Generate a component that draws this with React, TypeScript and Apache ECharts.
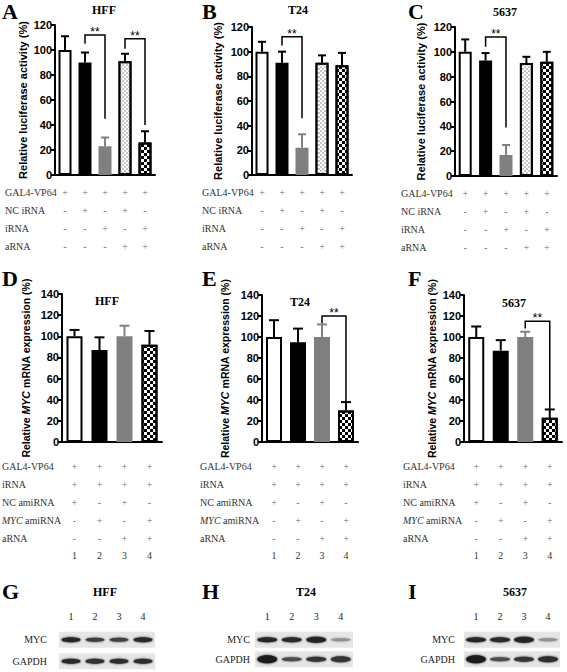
import React, { useEffect, useRef } from 'react';
import * as echarts from 'echarts';

const SANS = 'Liberation Sans';
const SERIF = 'Liberation Serif';

// ---------------- Data: panels A–C (luciferase activity) ----------------
const lucCategories = ['1', '2', '3', '4', '5'];
const lucRowLabels = ['{r|GAL4-VP64}', '{r|NC iRNA}', '{r|iRNA}', '{r|aRNA}'];
const lucSignGal4 = ['+', '+', '+', '+', '+'];
const lucSignNcIrna = ['-', '+', '-', '+', '-'];
const lucSignIrna = ['-', '-', '+', '-', '+'];
const lucSignArna = ['-', '-', '-', '+', '+'];
const lucTicks = [0, 20, 40, 60, 80, 100, 120];

const lucHffMean = [100, 90, 23, 91, 26];
const lucHffTop = [111, 98, 30, 97, 35];
const lucT24Mean = [100, 91, 22, 91, 89];
const lucT24Top = [108, 100, 33, 97, 99];
const luc5637Mean = [100, 93, 17, 91, 92];
const luc5637Top = [110, 99, 25, 96, 100];
// significance brackets: [fromBar, toBar, bracketTop, leftEnd, rightEnd]
const lucHffSig = [[1, 2, 112, 105, 45], [3, 4, 109, 101, 40]];
const lucT24Sig = [[1, 2, 112, 105, 46]];
const luc5637Sig = [[1, 2, 112, 104, 39]];

// ---------------- Data: panels D–F (MYC mRNA) ----------------
const mycCategories = ['1', '2', '3', '4'];
const mycRowLabels = ['{r|GAL4-VP64}', '{r|iRNA}', '{r|NC amiRNA}', '{i|MYC}{r| amiRNA}', '{r|aRNA}'];
const mycSignGal4 = ['+', '+', '+', '+'];
const mycSignIrna = ['+', '+', '+', '+'];
const mycSignNcAmirna = ['+', '-', '+', '-'];
const mycSignMycAmirna = ['-', '+', '-', '+'];
const mycSignArna = ['-', '-', '+', '+'];
const mycTicks = [0, 20, 40, 60, 80, 100, 120, 140];

const mycHffMean = [100, 87, 100, 92];
const mycHffTop = [106, 99, 110, 105];
const mycT24Mean = [100, 95, 100, 30];
const mycT24Top = [116, 108, 112, 38];
const myc5637Mean = [100, 87, 100, 23];
const myc5637Top = [110, 97, 105, 31];
const mycHffSig: number[][] = [];
const mycT24Sig = [[2, 3, 120, 113, 33]];
const myc5637Sig = [[2, 3, 115, 108, 31]];

// ---------------- Data: panels G–I (western blots) ----------------
const blotLanes = ['1', '2', '3', '4'];
const blotRows = ['MYC', 'GAPDH'];
const blotHffMyc = [0.9, 0.8, 0.78, 0.88];
const blotHffMycThick = [4, 3, 3, 4];
const blotHffGapdh = [0.88, 0.85, 0.86, 0.86];
const blotHffGapdhThick = [4, 4, 4, 4];
const blotT24Myc = [0.9, 0.88, 0.93, 0.4];
const blotT24MycThick = [4, 4, 5, 2];
const blotT24Gapdh = [0.96, 0.72, 0.84, 0.84];
const blotT24GapdhThick = [7, 3, 4, 5];
const blot5637Myc = [0.9, 0.88, 0.93, 0.4];
const blot5637MycThick = [4, 4, 5, 2];
const blot5637Gapdh = [0.96, 0.72, 0.84, 0.86];
const blot5637GapdhThick = [7, 3, 4, 5];

const panelTitles = ['HFF', 'T24', '5637'];
const panelLetters = ['A', 'B', 'C', 'D', 'E', 'F', 'G', 'H', 'I'];

// ---------------- Styles / layout ----------------
const checker = (color: string, size: number) => ({
  symbol: 'rect',
  symbolSize: 1,
  dashArrayX: [[size, size], [0, size, size, 0]],
  dashArrayY: [size, 0],
  color,
  backgroundColor: '#fff',
});
const BW = 2;
const lucStyles = [
  { color: '#fff', borderColor: '#000', borderWidth: BW },
  { color: '#000', borderColor: '#000', borderWidth: BW },
  { color: '#808080', borderColor: '#808080', borderWidth: BW },
  { color: '#fff', borderColor: '#000', borderWidth: BW, decal: checker('#c6c6c6', 2) },
  { color: '#fff', borderColor: '#000', borderWidth: BW, decal: checker('#000', 3) },
];
const lucErrColors = ['#000', '#000', '#808080', '#000', '#000'];
const mycStyles = [
  { color: '#fff', borderColor: '#000', borderWidth: BW },
  { color: '#000', borderColor: '#000', borderWidth: BW },
  { color: '#808080', borderColor: '#808080', borderWidth: BW },
  { color: '#fff', borderColor: '#000', borderWidth: BW, decal: checker('#000', 3) },
];
const mycErrColors = ['#000', '#000', '#808080', '#000'];

const lucLayouts = [
  { left: 55, top: 25, width: 100, height: 150, nameGap: 27, rowX: 5, title: [104, 10] },
  { left: 252, top: 27, width: 100, height: 148, nameGap: 29, rowX: 202, title: [298, 10] },
  { left: 455, top: 27, width: 102, height: 149, nameGap: 29, rowX: 401, title: [505, 12] },
];
const mycLayouts = [
  { left: 62, top: 294, width: 100, height: 148, nameGap: 31, rowX: 2, title: [107, 301] },
  { left: 262, top: 295, width: 96, height: 147, nameGap: 32, rowX: 200, title: [300, 302] },
  { left: 464, top: 295, width: 98, height: 147, nameGap: 27, rowX: 403, title: [514, 303] },
];
const blotLayouts = [
  { left: 59, top: 629, width: 96, height: 43, laneMargin: 8, rowMargin: 12, bandW: 19, title: [105, 592] },
  { left: 255, top: 630, width: 98, height: 39, laneMargin: 9, rowMargin: 5, bandW: 20, title: [306, 592] },
  { left: 464, top: 630, width: 96, height: 39, laneMargin: 9, rowMargin: 9, bandW: 20, title: [515, 592] },
];
const letterX = [2, 202, 408];
const letterY = [11, 278, 591];

const rowRich = {
  r: { fontFamily: SERIF, fontSize: 10, color: '#333', fill: '#333' },
  i: { fontFamily: SERIF, fontSize: 10, fontStyle: 'italic', color: '#333', fill: '#333' },
};

function txt(x: number, y: number, text: string, fontFamily: string, fontSize: number, fontWeight: string, fill: string, align = 'left', rich?: any) {
  const style: any = {
    text,
    fontFamily,
    fontSize,
    fontWeight,
    fill,
    align,
    textAlign: align,
    verticalAlign: 'middle',
    textVerticalAlign: 'middle',
  };
  if (rich) style.rich = rich;
  return { type: 'text', x, y, silent: true, style };
}

function buildBarPanel(p: any) {
  const { gi, lay, cats, means, tops, sigs, styles, errColors, signRows, ticks, yName, yFontSize, rowLabels, numbers, LH, margin, barWidth, cap } = p;
  const grid = { left: lay.left, top: lay.top, width: lay.width, height: lay.height };
  const xAxis = {
    type: 'category',
    gridIndex: gi,
    data: cats,
    axisLine: { lineStyle: { color: '#000', width: 2 } },
    axisTick: { show: false },
    axisLabel: {
      interval: 0,
      margin,
      color: '#707070',
      formatter: (value: string, index: number) => {
        const lines = signRows.map((row: string[]) => `{s|${row[index]}}`);
        if (numbers) lines.push(`{n|${value}}`);
        return lines.join('\n');
      },
      rich: {
        s: { fontFamily: SERIF, fontSize: 10, color: '#707070', lineHeight: LH },
        n: { fontFamily: SERIF, fontSize: 10, color: '#333333', lineHeight: LH },
      },
    },
  };
  const yAxis = {
    type: 'value',
    gridIndex: gi,
    min: ticks[0],
    max: ticks[ticks.length - 1],
    interval: ticks[1] - ticks[0],
    axisLine: { show: true, lineStyle: { color: '#000', width: 2 } },
    axisTick: { show: true, length: 4, lineStyle: { color: '#000', width: 2 } },
    splitLine: { show: false },
    axisLabel: { fontFamily: SANS, fontWeight: 'bold', fontSize: 11, color: '#000', margin: 3 },
    name: yName,
    nameLocation: 'middle',
    nameGap: lay.nameGap,
    nameTextStyle: {
      fontFamily: SANS,
      fontWeight: 'bold',
      fontSize: yFontSize,
      color: '#000',
      rich: { i: { fontFamily: SANS, fontWeight: 'bold', fontStyle: 'italic', fontSize: yFontSize, color: '#000' } },
    },
  };
  const series: any[] = [
    {
      type: 'bar',
      xAxisIndex: gi,
      yAxisIndex: gi,
      barWidth,
      data: means.map((v: number, k: number) => ({ value: v, itemStyle: styles[k] })),
      z: 2,
    },
    {
      type: 'custom',
      xAxisIndex: gi,
      yAxisIndex: gi,
      encode: { x: 0, y: 1 },
      data: means.map((v: number, k: number) => [k, v, tops[k]]),
      z: 3,
      renderItem: (params: any, api: any) => {
        const x = api.value(0);
        const p0 = api.coord([x, api.value(1)]);
        const p1 = api.coord([x, api.value(2)]);
        const col = errColors[params.dataIndex];
        return {
          type: 'group',
          children: [
            { type: 'line', shape: { x1: p0[0], y1: p0[1], x2: p1[0], y2: p1[1] }, style: { stroke: col, lineWidth: 2 } },
            { type: 'line', shape: { x1: p1[0] - cap, y1: p1[1], x2: p1[0] + cap, y2: p1[1] }, style: { stroke: col, lineWidth: 2 } },
          ],
        };
      },
    },
  ];
  if (sigs.length) {
    series.push({
      type: 'custom',
      xAxisIndex: gi,
      yAxisIndex: gi,
      encode: { x: 0, y: 2 },
      data: sigs,
      z: 4,
      renderItem: (params: any, api: any) => {
        const a = api.coord([api.value(0), api.value(3)]);
        const t1 = api.coord([api.value(0), api.value(2)]);
        const t2 = api.coord([api.value(1), api.value(2)]);
        const b = api.coord([api.value(1), api.value(4)]);
        return {
          type: 'group',
          children: [
            { type: 'polyline', shape: { points: [a, t1, t2, b] }, style: { stroke: '#000', lineWidth: 1.5, fill: null } },
            {
              type: 'text',
              x: (t1[0] + t2[0]) / 2,
              y: t1[1] + 3,
              style: { text: '**', fontFamily: SANS, fontSize: 12, fill: '#000', align: 'center', verticalAlign: 'bottom' },
            },
          ],
        };
      },
    });
  }
  const bottom = lay.top + lay.height;
  const graphics = rowLabels.map((label: string, i: number) =>
    txt(lay.rowX, bottom + margin + LH * i + LH / 2, label, SERIF, 10, 'normal', '#333', 'left', rowRich)
  );
  return { grid, xAxis, yAxis, series, graphics };
}

function buildBlotPanel(gi: number, lay: any, rowData: any[]) {
  const grid = { left: lay.left, top: lay.top, width: lay.width, height: lay.height };
  const xAxis = {
    type: 'category',
    gridIndex: gi,
    position: 'top',
    data: blotLanes,
    axisLine: { show: false },
    axisTick: { show: false },
    axisLabel: { fontFamily: SERIF, fontSize: 10, color: '#222', margin: lay.laneMargin },
  };
  const yAxis = {
    type: 'category',
    gridIndex: gi,
    inverse: true,
    data: blotRows,
    axisLine: { show: false },
    axisTick: { show: false },
    splitLine: { show: false },
    axisLabel: { fontFamily: SERIF, fontSize: 10, color: '#222', margin: lay.rowMargin },
  };
  const bandData: any[] = [];
  rowData.forEach((rd: any, r: number) => {
    rd.intensity.forEach((v: number, k: number) => {
      bandData.push([k, blotRows[r], v, rd.thick[k], lay.bandW]);
    });
  });
  const series = [
    {
      type: 'custom',
      xAxisIndex: gi,
      yAxisIndex: gi,
      encode: { x: 0, y: 1 },
      data: blotRows.map((r) => [0, r]),
      z: 1,
      renderItem: (params: any, api: any) => {
        const c = api.coord([0, api.value(1)]);
        const cs = params.coordSys;
        return {
          type: 'rect',
          shape: { x: cs.x, y: c[1] - 8, width: cs.width, height: 16 },
          style: { fill: '#e6e6e6' },
        };
      },
    },
    {
      type: 'custom',
      xAxisIndex: gi,
      yAxisIndex: gi,
      encode: { x: 0, y: 1 },
      data: bandData,
      z: 2,
      renderItem: (params: any, api: any) => {
        const c = api.coord([api.value(0), api.value(1)]);
        const inten = api.value(2);
        const t = api.value(3);
        const w = api.value(4);
        const g = Math.round(228 - inten * 210);
        const col = `rgb(${g},${g},${g})`;
        return {
          type: 'ellipse',
          shape: { cx: c[0], cy: c[1], rx: w / 2, ry: t / 2 + 0.5 },
          style: { fill: col, shadowBlur: 2.5, shadowColor: col },
        };
      },
    },
  ];
  return { grid, xAxis, yAxis, series };
}

export default function App() {
  const ref = useRef<HTMLDivElement>(null);
  useEffect(() => {
    if (!ref.current) return;
    const chart = echarts.init(ref.current, undefined, { renderer: 'svg' });

    const lucSignRows = [lucSignGal4, lucSignNcIrna, lucSignIrna, lucSignArna];
    const mycSignRows = [mycSignGal4, mycSignIrna, mycSignNcAmirna, mycSignMycAmirna, mycSignArna];
    const lucMeans = [lucHffMean, lucT24Mean, luc5637Mean];
    const lucTops = [lucHffTop, lucT24Top, luc5637Top];
    const lucSigs = [lucHffSig, lucT24Sig, luc5637Sig];
    const mycMeans = [mycHffMean, mycT24Mean, myc5637Mean];
    const mycTops = [mycHffTop, mycT24Top, myc5637Top];
    const mycSigs = [mycHffSig, mycT24Sig, myc5637Sig];

    const panels: any[] = [];
    for (let i = 0; i < 3; i++) {
      panels.push(
        buildBarPanel({
          gi: i,
          lay: lucLayouts[i],
          cats: lucCategories,
          means: lucMeans[i],
          tops: lucTops[i],
          sigs: lucSigs[i],
          styles: lucStyles,
          errColors: lucErrColors,
          signRows: lucSignRows,
          ticks: lucTicks,
          yName: 'Relative luciferase activity (%)',
          yFontSize: 11,
          rowLabels: lucRowLabels,
          numbers: false,
          LH: 18,
          margin: 8,
          barWidth: 13,
          cap: 4,
        })
      );
    }
    for (let i = 0; i < 3; i++) {
      panels.push(
        buildBarPanel({
          gi: 3 + i,
          lay: mycLayouts[i],
          cats: mycCategories,
          means: mycMeans[i],
          tops: mycTops[i],
          sigs: mycSigs[i],
          styles: mycStyles,
          errColors: mycErrColors,
          signRows: mycSignRows,
          ticks: mycTicks,
          yName: 'Relative {i|MYC} mRNA expression (%)',
          yFontSize: 10.5,
          rowLabels: mycRowLabels,
          numbers: true,
          LH: 17.8,
          margin: 16,
          barWidth: 16,
          cap: 5,
        })
      );
    }
    const blotData = [
      [
        { intensity: blotHffMyc, thick: blotHffMycThick },
        { intensity: blotHffGapdh, thick: blotHffGapdhThick },
      ],
      [
        { intensity: blotT24Myc, thick: blotT24MycThick },
        { intensity: blotT24Gapdh, thick: blotT24GapdhThick },
      ],
      [
        { intensity: blot5637Myc, thick: blot5637MycThick },
        { intensity: blot5637Gapdh, thick: blot5637GapdhThick },
      ],
    ];
    for (let i = 0; i < 3; i++) {
      panels.push(buildBlotPanel(6 + i, blotLayouts[i], blotData[i]));
    }

    const graphics: any[] = [];
    panels.forEach((p) => p.graphics && graphics.push(...p.graphics));
    panelLetters.forEach((L, k) => {
      graphics.push(txt(letterX[k % 3], letterY[Math.floor(k / 3)], L, SERIF, 22, 'bold', '#000'));
    });
    const titlePos = [
      ...lucLayouts.map((l) => l.title),
      ...mycLayouts.map((l) => l.title),
      ...blotLayouts.map((l) => l.title),
    ];
    titlePos.forEach((pos, k) => {
      graphics.push(txt(pos[0], pos[1], panelTitles[k % 3], SERIF, 12, 'bold', '#000', 'center'));
    });

    chart.setOption({
      animation: false,
      backgroundColor: '#fff',
      textStyle: { fontFamily: SANS },
      grid: panels.map((p) => p.grid),
      xAxis: panels.map((p) => p.xAxis),
      yAxis: panels.map((p) => p.yAxis),
      series: panels.flatMap((p) => p.series),
      graphic: { elements: graphics },
    });
    return () => chart.dispose();
  }, []);
  return <div ref={ref} style={{ position: 'absolute', left: 0, top: 0, width: 567, height: 672 }} />;
}
